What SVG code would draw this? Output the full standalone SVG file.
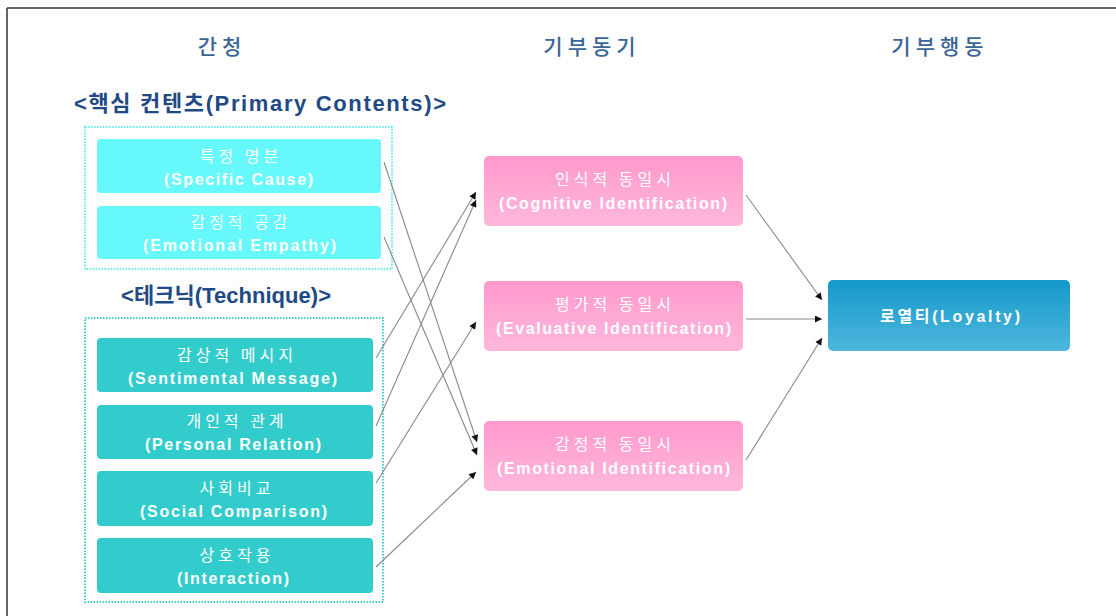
<svg xmlns="http://www.w3.org/2000/svg" width="1116" height="616" viewBox="0 0 1116 616">
<defs>
  <linearGradient id="gPink" x1="0" y1="0" x2="0" y2="1">
    <stop offset="0" stop-color="#ff99cc"/>
    <stop offset="1" stop-color="#ffb8dc"/>
  </linearGradient>
  <linearGradient id="gBlue" x1="0" y1="0" x2="0" y2="1">
    <stop offset="0" stop-color="#1598cb"/>
    <stop offset="1" stop-color="#4db7dc"/>
  </linearGradient>
  <marker id="arr" viewBox="0 0 10 10" refX="10" refY="5" markerWidth="8" markerHeight="7" markerUnits="userSpaceOnUse" orient="auto">
    <path d="M0,0 L10,5 L0,10 z" fill="#111"/>
  </marker>
  <style>
    .title{font-family:"Noto Sans CJK KR","Noto Sans",sans-serif;font-size:21px;font-weight:500;fill:#3a6597;text-anchor:middle;letter-spacing:5px}
    .hdr{font-family:"Liberation Sans","Noto Sans CJK KR",sans-serif;font-size:22px;font-weight:bold;fill:#1f4a85}
    .ko{font-family:"Noto Sans CJK KR",sans-serif;font-size:16px;fill:#ffffff;text-anchor:middle;letter-spacing:4px}
    .en{font-family:"Liberation Sans","Noto Sans CJK KR",sans-serif;font-size:16px;font-weight:bold;fill:#ffffff;text-anchor:middle}
    .cyan{fill:#66f8fa}
    .teal{fill:#33cccc}
    .pink{fill:url(#gPink)}
    .blue{fill:url(#gBlue)}
    .dotc{fill:none;stroke:#66eef2;stroke-width:2;stroke-dasharray:1.5 1.5}
    .dott{fill:none;stroke:#44d0d0;stroke-width:2;stroke-dasharray:1.5 1.5}
    .conn line{stroke:#888;stroke-width:1.1;marker-end:url(#arr)}
  </style>
</defs>
<rect width="1116" height="616" fill="#ffffff"/>
<line x1="7" y1="8" x2="1116" y2="8" stroke="#333" stroke-width="1.5"/>
<line x1="7" y1="8" x2="7" y2="616" stroke="#333" stroke-width="1.5"/>

<text class="title" x="222" y="54">간청</text>
<text class="title" x="592" y="54">기부동기</text>
<text class="title" x="940" y="54">기부행동</text>

<text class="hdr" x="74" y="111" textLength="372" lengthAdjust="spacing">&lt;핵심 컨텐츠(Primary Contents)&gt;</text>
<text class="hdr" x="121" y="303" textLength="210" lengthAdjust="spacing">&lt;테크닉(Technique)&gt;</text>

<rect class="dotc" x="85" y="127" width="307" height="142"/>
<rect class="dott" x="85" y="318" width="298" height="284"/>

<g id="n-specific-cause">
  <rect class="cyan" x="97" y="139" width="284" height="54" rx="4"/>
  <text class="ko" x="241" y="162">특정 명분</text>
  <text class="en" x="238.5" y="185" textLength="149" lengthAdjust="spacing">(Specific Cause)</text>
</g>
<g id="n-emotional-empathy">
  <rect class="cyan" x="97" y="206" width="284" height="53" rx="4"/>
  <text class="ko" x="241" y="228">감정적 공감</text>
  <text class="en" x="239.5" y="251" textLength="193" lengthAdjust="spacing">(Emotional Empathy)</text>
</g>
<g id="n-sentimental-message">
  <rect class="teal" x="97" y="338" width="276" height="54" rx="4"/>
  <text class="ko" x="237" y="361">감상적 메시지</text>
  <text class="en" x="232.5" y="384" textLength="209" lengthAdjust="spacing">(Sentimental Message)</text>
</g>
<g id="n-personal-relation">
  <rect class="teal" x="97" y="405" width="276" height="54" rx="4"/>
  <text class="ko" x="237" y="427">개인적 관계</text>
  <text class="en" x="233" y="450" textLength="176" lengthAdjust="spacing">(Personal Relation)</text>
</g>
<g id="n-social-comparison">
  <rect class="teal" x="97" y="471" width="276" height="55" rx="4"/>
  <text class="ko" x="237" y="494">사회비교</text>
  <text class="en" x="233.5" y="517" textLength="187" lengthAdjust="spacing">(Social Comparison)</text>
</g>
<g id="n-interaction">
  <rect class="teal" x="97" y="538" width="276" height="55" rx="4"/>
  <text class="ko" x="237" y="561">상호작용</text>
  <text class="en" x="233" y="584" textLength="112" lengthAdjust="spacing">(Interaction)</text>
</g>

<g id="n-cognitive">
  <rect class="pink" x="484" y="156" width="259" height="70" rx="5"/>
  <text class="ko" x="615" y="185">인식적 동일시</text>
  <text class="en" x="613" y="209" textLength="228" lengthAdjust="spacing">(Cognitive Identification)</text>
</g>
<g id="n-evaluative">
  <rect class="pink" x="484" y="281" width="259" height="70" rx="5"/>
  <text class="ko" x="615" y="310">평가적 동일시</text>
  <text class="en" x="613.5" y="334" textLength="235" lengthAdjust="spacing">(Evaluative Identification)</text>
</g>
<g id="n-emotional-id">
  <rect class="pink" x="484" y="421" width="259" height="70" rx="5"/>
  <text class="ko" x="615" y="450">감정적 동일시</text>
  <text class="en" x="613.5" y="474" textLength="233" lengthAdjust="spacing">(Emotional Identification)</text>
</g>
<g id="n-loyalty">
  <rect class="blue" x="828" y="280" width="242" height="71" rx="5"/>
  <text class="en" x="950" y="322" textLength="140" lengthAdjust="spacing">로열티(Loyalty)</text>
</g>

<g id="connectors" class="conn">
  <line x1="384" y1="162" x2="477" y2="442"/>
  <line x1="384" y1="237" x2="477" y2="455"/>
  <line x1="376" y1="358" x2="476" y2="192"/>
  <line x1="376" y1="426" x2="476" y2="200"/>
  <line x1="376" y1="483" x2="476" y2="322"/>
  <line x1="376" y1="567" x2="476" y2="472"/>
  <line x1="746" y1="195" x2="822" y2="300"/>
  <line x1="746" y1="319" x2="822" y2="319"/>
  <line x1="746" y1="460" x2="822" y2="338"/>
</g>
</svg>
